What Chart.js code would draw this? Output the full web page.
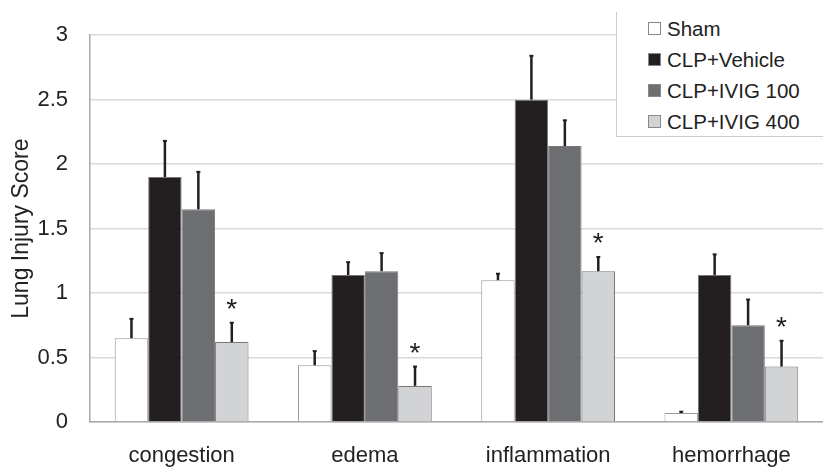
<!DOCTYPE html>
<html>
<head>
<meta charset="utf-8">
<script src="https://cdn.jsdelivr.net/npm/chart.js@4.4.0/dist/chart.umd.min.js"></script>
<style>
  html, body { margin: 0; padding: 0; background: #fff; }
  #wrap { position: relative; width: 823px; height: 472px; }
  #legend {
    position: absolute; left: 616px; top: 12px; width: 210px; height: 125px;
    background: #fff; border-left: 1px solid #ccc; border-bottom: 1px solid #ccc;
    box-sizing: border-box; font-family: "Liberation Sans", Arial, sans-serif;
    font-size: 20.5px; color: #222; padding-top: 1px; padding-left: 31px;
  }
  .item { height: 31px; display: flex; align-items: center; }
  .box { width: 11px; height: 11px; border: 1px solid #888; margin-right: 6px; flex: none; }
</style>
</head>
<body>
<div id="wrap">
  <canvas id="chart" width="823" height="472"></canvas>
  <div id="legend"></div>
</div>
<script>
const categories = ["congestion", "edema", "inflammation", "hemorrhage"];
const groups = ["Sham", "CLP+Vehicle", "CLP+IVIG 100", "CLP+IVIG 400"];
const colors = ["#ffffff", "#231f20", "#6d6e71", "#d1d3d4"];

const sham = [0.65, 0.44, 1.10, 0.07];
const vehicle = [1.90, 1.14, 2.50, 1.14];
const ivig100 = [1.65, 1.17, 2.14, 0.75];
const ivig400 = [0.62, 0.28, 1.17, 0.43];

// upper end of each error bar
const shamErr = [0.80, 0.55, 1.15, 0.08];
const vehicleErr = [2.18, 1.24, 2.84, 1.30];
const ivig100Err = [1.94, 1.31, 2.34, 0.95];
const ivig400Err = [0.77, 0.43, 1.28, 0.63];

const starred = [true, true, true, true]; // * over CLP+IVIG 400

const values = [sham, vehicle, ivig100, ivig400];
const errs = [shamErr, vehicleErr, ivig100Err, ivig400Err];

const font = "'Liberation Sans', Arial, sans-serif";

// legend
const legend = document.getElementById("legend");
groups.forEach((g, i) => {
  legend.innerHTML += `<div class="item"><span class="box" style="background:${colors[i]}"></span>${g}</div>`;
});

const errorBars = {
  id: "errorBars",
  afterDatasetsDraw(chart) {
    const ctx = chart.ctx;
    const y = chart.scales.y;
    ctx.save();
    chart.data.datasets.forEach((ds, di) => {
      const meta = chart.getDatasetMeta(di);
      meta.data.forEach((bar, i) => {
        const top = y.getPixelForValue(errs[di][i]);
        ctx.strokeStyle = "#231f20";
        ctx.lineWidth = 2.5;
        ctx.beginPath();
        ctx.moveTo(bar.x, bar.y);
        ctx.lineTo(bar.x, top);
        ctx.stroke();
        ctx.lineWidth = 2;
        ctx.beginPath();
        ctx.moveTo(bar.x - 2, top);
        ctx.lineTo(bar.x + 2, top);
        ctx.stroke();
        if (di === 3 && starred[i]) {
          ctx.fillStyle = "#231f20";
          ctx.font = "28px " + font;
          ctx.textAlign = "center";
          ctx.textBaseline = "alphabetic";
          ctx.fillText("*", bar.x, top - 5);
        }
      });
    });
    ctx.restore();
  }
};

new Chart(document.getElementById("chart"), {
  type: "bar",
  data: {
    labels: categories,
    datasets: groups.map((g, i) => ({
      label: g,
      data: values[i],
      backgroundColor: colors[i],
      borderColor: i === 0 ? "#999" : "#777",
      borderWidth: 1,
      barPercentage: 1.0,
      categoryPercentage: 0.73
    }))
  },
  options: {
    responsive: false,
    animation: false,
    layout: { padding: { top: 18, right: 0, left: 0, bottom: 0 } },
    plugins: { legend: { display: false }, tooltip: { enabled: false } },
    scales: {
      x: {
        grid: { display: false },
        border: { color: "#aaa", width: 1.5 },
        ticks: { color: "#222", font: { family: font, size: 22 }, padding: 13 },
        afterFit(s) { s.height = 50; }
      },
      y: {
        min: 0, max: 3,
        ticks: {
          stepSize: 0.5, color: "#222", font: { family: font, size: 22 }, padding: 22,
          callback: v => String(v)
        },
        grid: { color: "#d9d9d9", lineWidth: 1.5, drawTicks: false },
        border: { color: "#aaa", width: 1.5 },
        title: { display: true, text: "Lung Injury Score", color: "#222", font: { family: font, size: 23 }, padding: { top: 8, bottom: 0 } },
        afterFit(s) { s.width = 90; }
      }
    }
  },
  plugins: [errorBars]
});
</script>
</body>
</html>
